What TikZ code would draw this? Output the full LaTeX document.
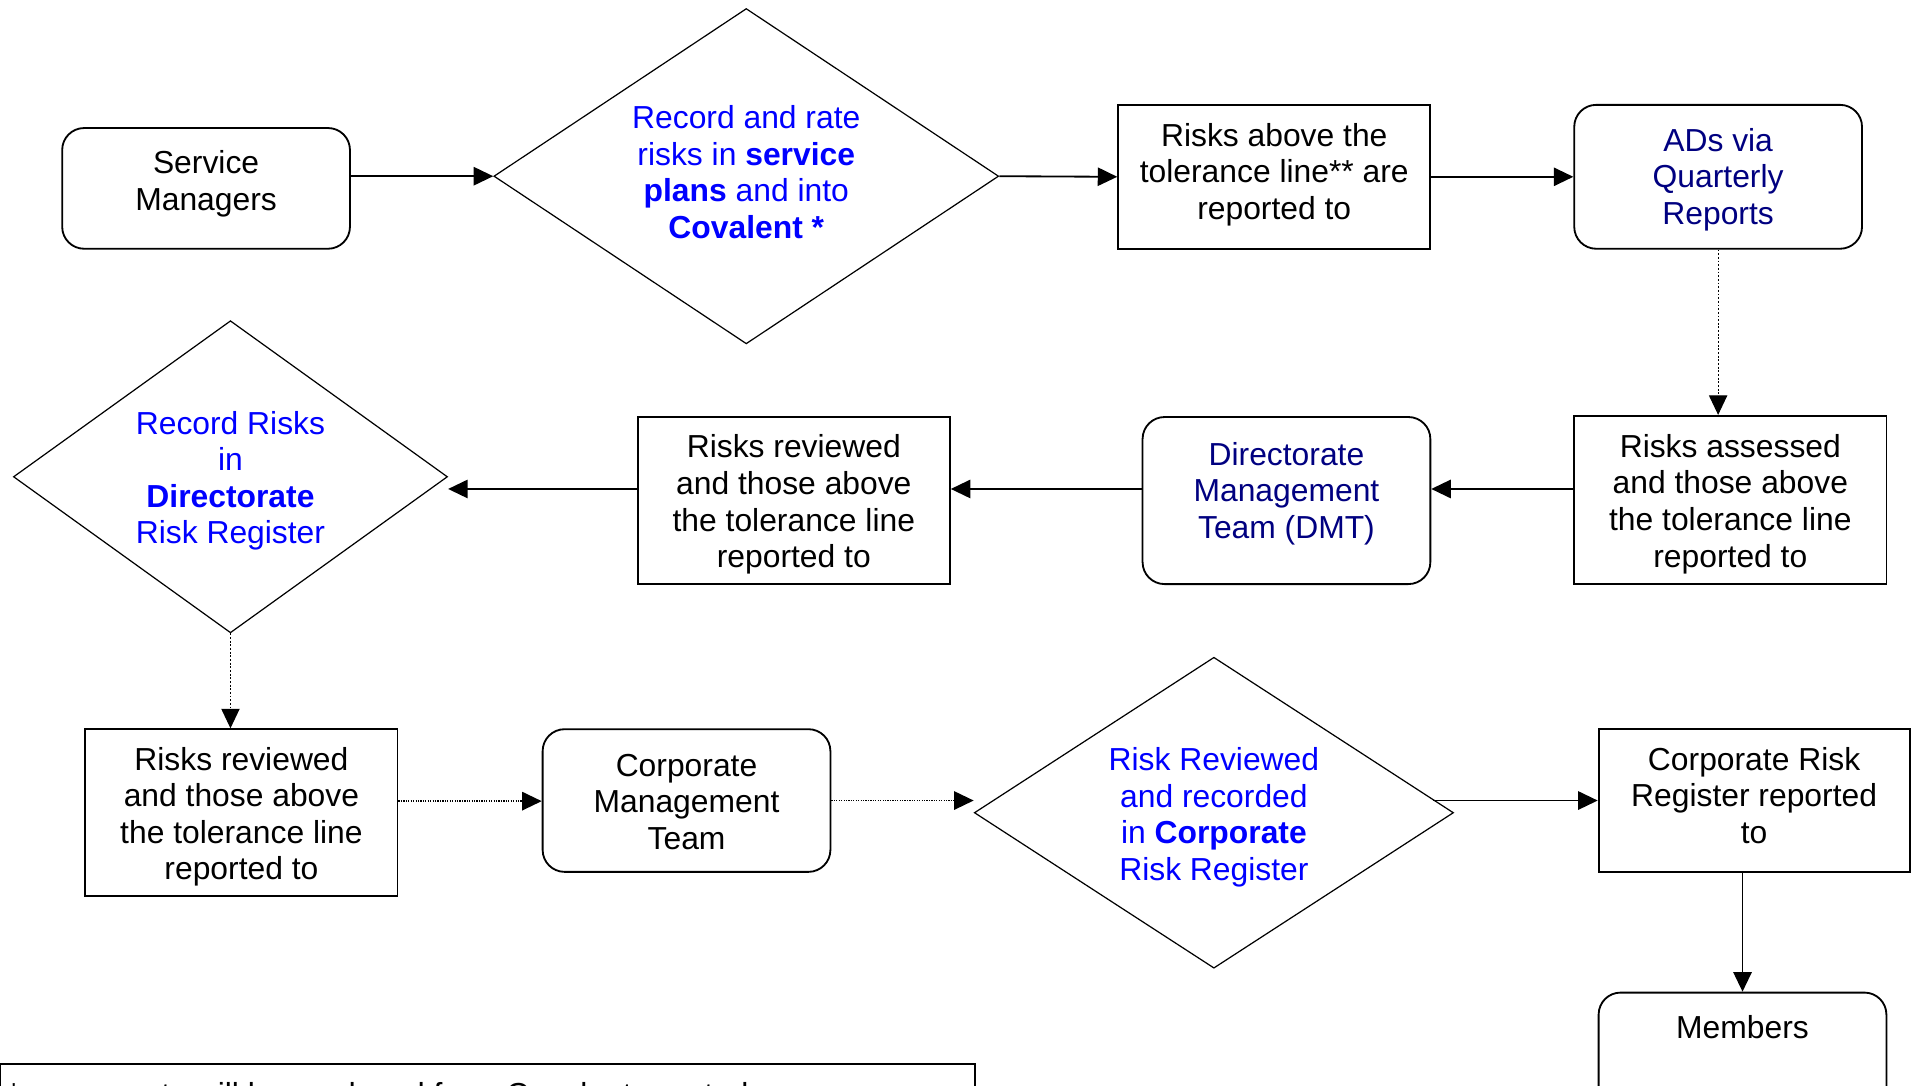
\documentclass[tikz,border=0pt]{standalone}
\usepackage{fontspec}
\setmainfont{Liberation Sans}
\usetikzlibrary{shapes.geometric,arrows.meta}
\definecolor{dblue}{RGB}{0,0,255}
\definecolor{navyblue}{RGB}{0,0,128}
\newcommand{\lift}[2]{\raisebox{#1}[\height][\depth]{\begin{tabular}{@{}c@{}}#2\end{tabular}}}
\begin{document}
\begin{tikzpicture}[x=1pt,y=-1pt,
  every node/.style={font=\fontsize{26.1pt}{30pt}\selectfont, inner sep=0pt},
  box/.style={draw, line width=1.5pt, minimum width=256pt, minimum height=137pt},
  rbox/.style={draw, line width=1.5pt, rounded corners=18pt, minimum width=236pt, minimum height=117pt},
  dia/.style={draw, diamond, line width=1pt, shape aspect=1.5, text=dblue},
  tip/.style={-{Triangle[length=16pt,width=15pt]}},
  arr/.style={tip, line width=1.5pt},
  dotv/.style={tip, line width=0.9pt, dash pattern=on 1.5pt off 1.5pt},
  doth/.style={tip, line width=1.5pt, dash pattern=on 1pt off 1pt},
]
\useasboundingbox (0,0) rectangle (1568,890);
\clip (0,0) rectangle (1568,890);

% top row
\node[rbox, minimum height=99pt] (sm) at (169,154.5) {\lift{3pt}{Service\\Managers}};
\node[dia, minimum width=414pt, minimum height=275pt] (d1) at (612,144.5)
  {\lift{0pt}{Record and rate\\risks in \textbf{service}\\\textbf{plans} and into\\\textbf{Covalent *}}};
\node[box, minimum height=118pt] (b3) at (1045,145) {\lift{1pt}{Risks above the\\tolerance line** are\\reported to}};
\node[rbox, minimum height=118pt, text=navyblue] (ads) at (1409,145) {\lift{-3pt}{ADs via\\Quarterly\\Reports}};

% middle row
\node[box, minimum height=138pt] (ra) at (1419,410) {\lift{-4pt}{Risks assessed\\and those above\\the tolerance line\\reported to}};
\node[rbox, minimum height=137pt, text=navyblue] (dmt) at (1055,410.5) {\lift{5pt}{Directorate\\Management\\Team (DMT)}};
\node[box] (rr1) at (651,410.5) {\lift{-4pt}{Risks reviewed\\and those above\\the tolerance line\\reported to}};
\node[dia, minimum width=356pt, minimum height=256pt, shape aspect=1.39] (d2) at (189,391)
  {\lift{-4pt}{Record Risks\\in\\\textbf{Directorate}\\Risk Register}};

% bottom row
\node[box] (rr2) at (198,666.5) {\lift{-4pt}{Risks reviewed\\and those above\\the tolerance line\\reported to}};
\node[rbox] (cmt) at (563,656.5) {\lift{-4pt}{Corporate\\Management\\Team}};
\node[dia, minimum width=393pt, minimum height=255pt, shape aspect=1.54] (d3) at (995.5,666.5)
  {\lift{-4.5pt}{Risk Reviewed\\and recorded\\in \textbf{Corporate}\\Risk Register}};
\node[box, minimum width=255pt, minimum height=117pt] (crr) at (1438.5,656.5) {\lift{1pt}{Corporate Risk\\Register reported\\to}};
\node[rbox] (mem) at (1429,872.5) {\lift{27pt}{Members}};

% footnote
\node[draw, line width=1.5pt, anchor=north west, minimum width=800pt, minimum height=60pt] (fn) at (-1,872) {};
\node[anchor=base west] (fntext) at (6,907) {*\hspace{55pt}reports will be produced from Covalent quarterly};

% connectors
\draw[arr] (sm.east |- d1.west) -- (d1.west);
\draw[arr] (d1.east) -- (b3.west);
\draw[arr] (b3.east) -- (ads.west);
\draw[dotv] (ads.south) -- (ads.south |- ra.north);
\draw[arr] ([yshift=9pt]ra.west) -- ([yshift=9pt]ra.west -| dmt.east);
\draw[arr] ([yshift=9.5pt]dmt.west) -- ([yshift=9.5pt]dmt.west -| rr1.east);
\draw[arr] ([yshift=9.5pt]rr1.west) -- ([yshift=9.5pt]rr1.west -| d2.east);
\draw[dotv] (d2.south) -- (d2.south |- rr2.north);
\draw[doth] ([yshift=9.5pt]rr2.east) -- ([yshift=9.5pt]rr2.east -| cmt.west);
\draw[doth] (cmt.east) -- (cmt.east -| d3.west);
\draw[arr] ([xshift=-17pt]crr.west -| d3.east) -- (crr.west);
\draw[arr] (mem.north |- crr.south) -- (mem.north);
\end{tikzpicture}
\end{document}
